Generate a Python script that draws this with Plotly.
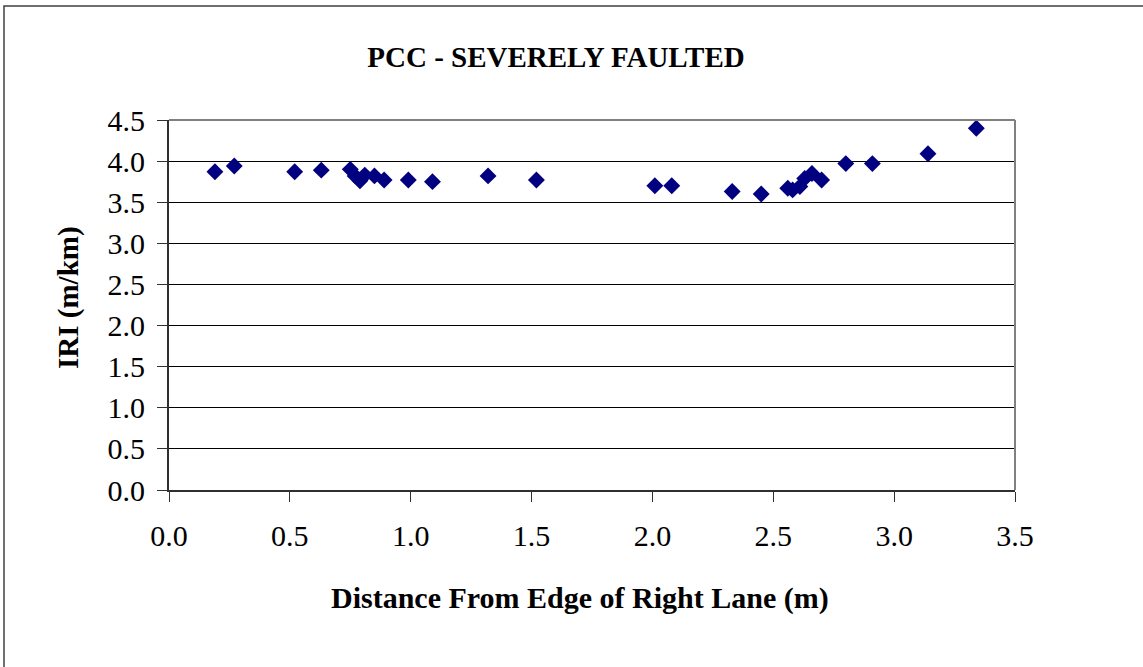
import plotly.graph_objects as go

# Distance from edge of right lane (m) and measured IRI (m/km)
distance_m = [0.19, 0.27, 0.52, 0.63, 0.75, 0.77, 0.79, 0.81, 0.85, 0.89,
              0.99, 1.09, 1.32, 1.52, 2.01, 2.08, 2.33, 2.45, 2.56, 2.58,
              2.61, 2.63, 2.66, 2.70, 2.80, 2.91, 3.14, 3.34]
iri_m_per_km = [3.87, 3.94, 3.87, 3.89, 3.90, 3.82, 3.76, 3.83, 3.82, 3.77,
                3.77, 3.75, 3.82, 3.77, 3.70, 3.70, 3.63, 3.60, 3.67, 3.65,
                3.69, 3.79, 3.85, 3.77, 3.97, 3.97, 4.09, 4.40]

x_ticks = [0.0, 0.5, 1.0, 1.5, 2.0, 2.5, 3.0, 3.5]
y_ticks = [0.0, 0.5, 1.0, 1.5, 2.0, 2.5, 3.0, 3.5, 4.0, 4.5]

W, H = 1143, 667
ML, MR, MT, MB = 169, 128, 120, 177
PW, PH = W - ML - MR, H - MT - MB

def px_x(p):
    return (p - ML) / PW

def px_y(p):
    return (H - MB - p) / PH

serif = "Liberation Serif"

fig = go.Figure()
fig.add_trace(go.Scatter(
    x=distance_m, y=iri_m_per_km, mode="markers",
    marker=dict(symbol="diamond", size=13, color="#000080",
                line=dict(width=0)),
    showlegend=False, cliponaxis=False,
))

fig.update_layout(
    width=W, height=H,
    margin=dict(l=ML, r=MR, t=MT, b=MB, pad=0),
    paper_bgcolor="white", plot_bgcolor="white",
    font=dict(family=serif, color="black"),
    xaxis=dict(
        range=[0, 3.5], tickvals=x_ticks,
        ticktext=[f"{v:.1f}" for v in x_ticks],
        tickfont=dict(size=30, family=serif, color="black"),
        ticks="outside", ticklen=10, tickwidth=1, tickcolor="#303030",
        ticklabelstandoff=8,
        showline=True, linecolor="#303030", linewidth=2,
        showgrid=False, zeroline=False, mirror=False,
    ),
    yaxis=dict(
        range=[0, 4.5], tickvals=y_ticks,
        ticktext=[f"{v:.1f}" for v in y_ticks],
        tickfont=dict(size=30, family=serif, color="black"),
        ticks="outside", ticklen=10, tickwidth=1, tickcolor="#303030",
        ticklabelstandoff=6,
        showline=True, linecolor="#303030", linewidth=2,
        showgrid=True, gridcolor="black", gridwidth=1,
        zeroline=False, mirror=False,
    ),
    title=dict(
        text="<b>PCC - SEVERELY FAULTED</b>",
        x=556 / W, xanchor="center", xref="container",
        y=1 - 57 / H, yanchor="middle", yref="container",
        font=dict(size=29, family=serif, color="black"),
    ),
    shapes=[
        # top and right frame of the plot area
        dict(type="line", xref="paper", yref="paper", x0=0, x1=1, y0=1, y1=1,
             line=dict(color="#808080", width=2)),
        dict(type="line", xref="paper", yref="paper", x0=1, x1=1, y0=0, y1=1,
             line=dict(color="#808080", width=2)),
        # chart border
        dict(type="rect", xref="paper", yref="paper",
             x0=px_x(4), x1=px_x(1160), y0=px_y(690), y1=px_y(6),
             line=dict(color="#404040", width=1.5), layer="below"),
    ],
    annotations=[
        dict(text="<b>Distance From Edge of Right Lane (m)</b>",
             xref="paper", yref="paper", x=px_x(580), y=px_y(598),
             xanchor="center", yanchor="middle", showarrow=False,
             font=dict(size=30, family=serif, color="black")),
        dict(text="<b>IRI (m/km)</b>", textangle=-90,
             xref="paper", yref="paper", x=px_x(68), y=px_y(298),
             xanchor="center", yanchor="middle", showarrow=False,
             font=dict(size=29, family=serif, color="black")),
    ],
)

fig.write_html("out.html")
